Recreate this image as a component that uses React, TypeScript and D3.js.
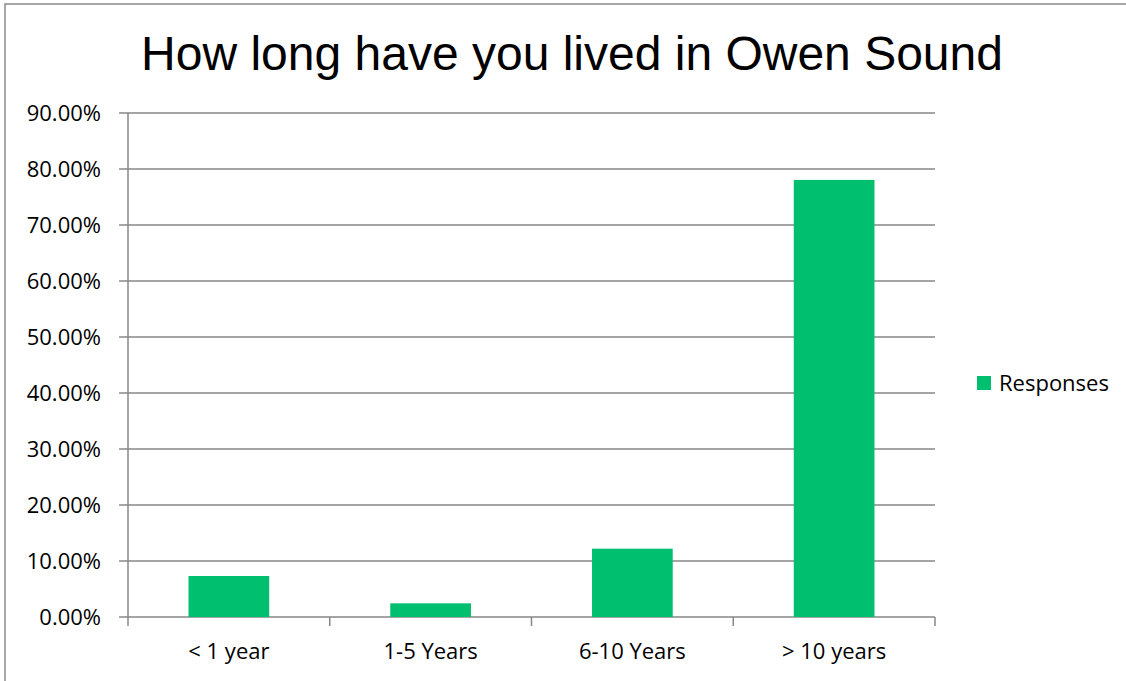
import React from "react";
import * as d3 from "d3";

const categories = ["< 1 year", "1-5 Years", "6-10 Years", "> 10 years"];
const responses = [0.0732, 0.0244, 0.122, 0.7805];
const yTicks = [0, 0.1, 0.2, 0.3, 0.4, 0.5, 0.6, 0.7, 0.8, 0.9];
const seriesName = "Responses";
const title = "How long have you lived in Owen Sound";

export default function App() {
  const W = 1126, H = 681;
  const left = 128, right = 935, top = 113, bottom = 617;
  const x = d3.scaleBand<string>().domain(categories).range([left, right]).paddingInner(0.6).paddingOuter(0.3);
  const y = d3.scaleLinear().domain([0, 0.9]).range([bottom, top]);
  const step = (right - left) / categories.length;
  const grid = "#878787";
  const labelFont = "'Open Sans', Carlito, Lato, sans-serif";
  const fs = 22;
  const fmt = d3.format(".2%");
  return (
    <svg width={W} height={H} style={{ position: "absolute", left: 0, top: 0, background: "#fff" }}>
      <rect x={5} y={4} width={W + 10} height={H + 10} fill="#fff" stroke="#8a8a8a" strokeWidth={1.5} />
      <text x={572} y={70} textAnchor="middle" fontFamily="'Liberation Sans', Arial, sans-serif" fontSize={48} fill="#000">{title}</text>
      {yTicks.map((t) => (
        <g key={t}>
          <line x1={left - 9} x2={right} y1={y(t)} y2={y(t)} stroke={grid} strokeWidth={1.5} />
          <text x={101} y={y(t) + 8} textAnchor="end" fontFamily={labelFont} fontSize={fs} fill="#000">{fmt(t)}</text>
        </g>
      ))}
      <line x1={left} x2={left} y1={top} y2={bottom} stroke={grid} strokeWidth={1.5} />
      {d3.range(categories.length + 1).map((i) => (
        <line key={i} x1={left + i * step} x2={left + i * step} y1={bottom} y2={bottom + 9} stroke={grid} strokeWidth={1.5} />
      ))}
      {categories.map((c, i) => (
        <g key={c}>
          <rect x={x(c)} y={y(responses[i])} width={x.bandwidth()} height={bottom - y(responses[i])} fill="#00BF6F" />
          <text x={(x(c) as number) + x.bandwidth() / 2} y={659} textAnchor="middle" fontFamily={labelFont} fontSize={fs} fill="#000">{c}</text>
        </g>
      ))}
      <rect x={977} y={376} width={14} height={14} fill="#00BF6F" />
      <text x={999} y={391} fontFamily={labelFont} fontSize={fs} fill="#000">{seriesName}</text>
    </svg>
  );
}
